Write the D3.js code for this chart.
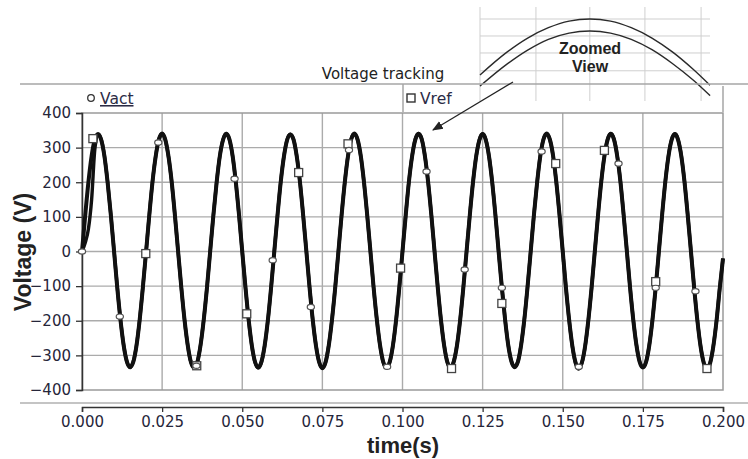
<!DOCTYPE html>
<html>
<head>
<meta charset="utf-8">
<script src="https://cdn.jsdelivr.net/npm/d3@7"></script>
<style>
  body { margin: 0; background: #fff; }
  svg { display: block; }
</style>
</head>
<body>
<div id="chart"></div>
<script>
// Voltage tracking chart - Vact vs Vref

// sample step of the waveforms (s)
var step = 0.001;

// Vref, one value per ms
var vRef = [
  0, 104, 200, 276, 323, 339, 322, 275, 199, 105, 1, -104, -197, -271, -318, -334, -319, -272, -197, -103,
  0, 105, 201, 275, 324, 341, 323, 274, 200, 104, -1, -105, -198, -271, -320, -336, -319, -270, -196, -104,
  1, 105, 199, 275, 322, 340, 324, 276, 200, 105, 0, -103, -197, -272, -319, -335, -318, -271, -198, -104,
  0, 104, 200, 274, 322, 338, 323, 275, 201, 105, 1, -104, -198, -272, -320, -337, -320, -271, -197, -105,
  -1, 105, 200, 276, 324, 341, 323, 275, 199, 104, 0, -105, -197, -271, -319, -335, -319, -272, -198, -104,
  0, 104, 201, 275, 323, 340, 324, 275, 200, 105, 0, -104, -198, -272, -320, -336, -318, -271, -197, -103,
  1, 105, 200, 275, 322, 339, 322, 274, 199, 104, -1, -104, -196, -271, -318, -334, -319, -271, -198, -104,
  0, 105, 199, 276, 324, 341, 323, 276, 200, 105, 0, -105, -198, -273, -321, -338, -320, -272, -197, -104,
  0, 104, 200, 275, 323, 340, 323, 275, 201, 105, 1, -104, -197, -271, -319, -335, -319, -271, -197, -104,
  0, 105, 201, 276, 323, 339, 322, 275, 200, 104, 0, -105, -199, -274, -322, -340, -322, -273, -199, -105,
  -20
];

// Vact, lags during the first quarter cycle then follows Vref
var vAct = [
  0, 25, 65, 150, 295, 338, 324, 276, 200, 106, 2, -103, -196, -270, -318, -335, -318, -271, -196, -102,
  1, 106, 202, 276, 324, 340, 322, 273, 199, 103, -2, -106, -199, -272, -320, -335, -318, -269, -195, -103,
  2, 106, 200, 276, 323, 341, 323, 275, 199, 104, -1, -104, -198, -273, -320, -336, -319, -272, -199, -105,
  1, 105, 201, 275, 323, 339, 324, 276, 202, 106, 2, -103, -197, -271, -319, -336, -319, -270, -196, -104,
  0, 106, 201, 277, 325, 340, 322, 274, 198, 103, -1, -106, -198, -272, -320, -336, -320, -273, -199, -105,
  1, 105, 202, 276, 324, 341, 325, 276, 201, 106, 1, -103, -197, -271, -319, -335, -317, -270, -196, -102,
  2, 106, 201, 276, 323, 340, 323, 275, 200, 105, 0, -103, -195, -270, -317, -333, -318, -270, -197, -103,
  1, 106, 200, 277, 325, 340, 322, 275, 199, 104, -1, -106, -199, -274, -322, -339, -321, -273, -198, -105,
  1, 105, 201, 276, 324, 341, 324, 276, 202, 106, 2, -103, -196, -270, -318, -334, -318, -270, -196, -103,
  1, 106, 202, 277, 324, 340, 323, 276, 201, 105, 1, -104, -198, -273, -321, -339, -321, -272, -198, -104,
  -20
];

// marker positions (time s, voltage V)
var actMarkT = [0, 0.0118, 0.0238, 0.0357, 0.0476, 0.0595, 0.0714, 0.0833, 0.0952, 0.1075, 0.1194, 0.131, 0.1434, 0.155, 0.1674, 0.179, 0.1914];
var actMarkV = [0, -188, 315, -330, 210, -25, -160, 293, -333, 231, -52, -105, 289, -333, 254, -105, -115];
var refMarkT = [0.0034, 0.0199, 0.0358, 0.0514, 0.0676, 0.083, 0.0994, 0.1153, 0.131, 0.1478, 0.163, 0.179, 0.195];
var refMarkV = [326, -6, -330, -180, 228, 311, -48, -338, -150, 254, 292, -87, -338];

// axis ticks
var xTicks = [0, 0.025, 0.05, 0.075, 0.1, 0.125, 0.15, 0.175, 0.2];
var yTicks = [-400, -300, -200, -100, 0, 100, 200, 300, 400];

// zoomed view inset (phase in degrees, voltage)
var zoomDeg = [37, 50, 60, 70, 80, 90, 100, 110, 120, 130, 140, 148];
var zoomOuter = [205, 260, 294, 319, 335, 340, 335, 319, 294, 260, 218, 180];
var zoomInner = [178, 231, 265, 291, 306, 311, 306, 291, 266, 232, 192, 155];
var zoomGridDeg = [37, 64, 90, 116.6, 143.7];
var zoomGridV = [340, 299, 258, 215];

var W = 748, H = 459;
var fontN = "DejaVu Sans, Verdana, sans-serif";
var fontB = "Liberation Sans, Arial, sans-serif";

var svg = d3.select("#chart").append("svg")
    .attr("width", W)
    .attr("height", H);

svg.append("rect").attr("width", W).attr("height", H).attr("fill", "#fff");

var x = d3.scaleLinear().domain([0, 0.2]).range([82, 723]);
var y = d3.scaleLinear().domain([-400, 400]).range([390, 113]);

// ---- zoomed view inset (behind the title area)
var zx = d3.scaleLinear().domain([37, 148]).range([480, 710]);
var zy = d3.scaleLinear().domain([200, 340]).range([77, 19]);

var inset = svg.append("g").attr("class", "inset");
inset.selectAll(".zv")
    .data(zoomGridDeg)
  .enter().append("line")
    .attr("x1", function(d) { return zx(d); })
    .attr("x2", function(d) { return zx(d); })
    .attr("y1", 7).attr("y2", 101)
    .attr("stroke", "#cfcfcf").attr("stroke-width", 1);
inset.selectAll(".zh")
    .data(zoomGridV)
  .enter().append("line")
    .attr("x1", 480).attr("x2", 710)
    .attr("y1", function(d) { return zy(d); })
    .attr("y2", function(d) { return zy(d); })
    .attr("stroke", "#cfcfcf").attr("stroke-width", 1);

var zline = d3.line()
    .x(function(d) { return zx(d[0]); })
    .y(function(d) { return zy(d[1]); })
    .curve(d3.curveMonotoneX);

[zoomOuter, zoomInner].forEach(function(vals) {
  inset.append("path")
      .datum(zoomDeg.map(function(d, i) { return [d, vals[i]]; }))
      .attr("d", zline)
      .attr("fill", "none")
      .attr("stroke", "#2a2a2a")
      .attr("stroke-width", 1.4);
});

inset.append("text")
    .attr("x", 590).attr("y", 54)
    .attr("text-anchor", "middle")
    .attr("font-family", fontB).attr("font-weight", "bold").attr("font-size", 16)
    .attr("fill", "#222")
    .text("Zoomed");
inset.append("text")
    .attr("x", 590).attr("y", 72)
    .attr("text-anchor", "middle")
    .attr("font-family", fontB).attr("font-weight", "bold").attr("font-size", 16)
    .attr("fill", "#222")
    .text("View");

// ---- title and legend row
svg.append("text")
    .attr("x", 383).attr("y", 79)
    .attr("text-anchor", "middle")
    .attr("font-family", fontN).attr("font-size", 15)
    .attr("fill", "#222")
    .text("Voltage tracking");

svg.append("line")
    .attr("x1", 20).attr("x2", W).attr("y1", 84).attr("y2", 84)
    .attr("stroke", "#a6a6a6").attr("stroke-width", 1.5);
svg.append("line")
    .attr("x1", 403).attr("x2", 403).attr("y1", 84).attr("y2", 112)
    .attr("stroke", "#a6a6a6").attr("stroke-width", 1.5);
svg.append("line")
    .attr("x1", 723).attr("x2", 723).attr("y1", 86).attr("y2", 112)
    .attr("stroke", "#a6a6a6").attr("stroke-width", 1.5);

svg.append("circle")
    .attr("cx", 91).attr("cy", 98).attr("r", 3.3)
    .attr("fill", "#fff").attr("stroke", "#333").attr("stroke-width", 1.3);
svg.append("text")
    .attr("x", 100).attr("y", 104)
    .attr("font-family", fontN).attr("font-size", 15.5)
    .attr("text-decoration", "underline")
    .attr("fill", "#2b2b45")
    .text("Vact");

svg.append("rect")
    .attr("x", 407).attr("y", 94).attr("width", 8).attr("height", 8)
    .attr("fill", "#fff").attr("stroke", "#333").attr("stroke-width", 1.4);
svg.append("text")
    .attr("x", 420).attr("y", 104)
    .attr("font-family", fontN).attr("font-size", 15.5)
    .attr("fill", "#2b2b45")
    .text("Vref");

// ---- grid and frame
var grid = svg.append("g").attr("class", "grid");
grid.selectAll(".gx")
    .data(xTicks.slice(1, -1))
  .enter().append("line")
    .attr("x1", function(d) { return x(d); })
    .attr("x2", function(d) { return x(d); })
    .attr("y1", y(400)).attr("y2", y(-400))
    .attr("stroke", "#ababab").attr("stroke-width", 1.4);
grid.selectAll(".gy")
    .data(yTicks.slice(1, -1))
  .enter().append("line")
    .attr("x1", x(0)).attr("x2", x(0.2))
    .attr("y1", function(d) { return y(d); })
    .attr("y2", function(d) { return y(d); })
    .attr("stroke", "#ababab").attr("stroke-width", 1.4);

svg.append("rect")
    .attr("x", x(0)).attr("y", y(400))
    .attr("width", x(0.2) - x(0)).attr("height", y(-400) - y(400))
    .attr("fill", "none").attr("stroke", "#9a9a9a").attr("stroke-width", 1.5);

// ---- y axis
var yAxis = svg.append("g")
    .attr("transform", "translate(" + x(0) + ",0)")
    .call(d3.axisLeft(y).tickValues(yTicks).tickSize(6).tickPadding(5));
yAxis.select(".domain").attr("stroke", "#333").attr("stroke-width", 1.5);
yAxis.selectAll(".tick line").attr("stroke", "#333").attr("stroke-width", 1.3);
yAxis.selectAll("text")
    .attr("font-family", fontN).attr("font-size", 15)
    .attr("fill", "#26263a");

// ---- x axis (separate band below the plot)
svg.append("line")
    .attr("x1", 20).attr("x2", W).attr("y1", 403).attr("y2", 403)
    .attr("stroke", "#b0b0b0").attr("stroke-width", 1.5);

var xAxis = svg.append("g")
    .attr("transform", "translate(0,407)")
    .call(d3.axisBottom(x).tickValues(xTicks).tickFormat(d3.format(".3f")).tickSize(5).tickPadding(4));
xAxis.select(".domain").attr("stroke", "#333").attr("stroke-width", 1.5);
xAxis.selectAll(".tick line").attr("stroke", "#333").attr("stroke-width", 1.3);
xAxis.selectAll("text")
    .attr("font-family", fontN).attr("font-size", 15)
    .attr("fill", "#26263a");

// axis titles
svg.append("text")
    .attr("x", 403).attr("y", 453)
    .attr("text-anchor", "middle")
    .attr("font-family", fontB).attr("font-weight", "bold").attr("font-size", 22)
    .attr("fill", "#222")
    .text("time(s)");
svg.append("text")
    .attr("transform", "translate(31,252) rotate(-90)")
    .attr("text-anchor", "middle")
    .attr("font-family", fontB).attr("font-weight", "bold").attr("font-size", 23)
    .attr("fill", "#222")
    .text("Voltage (V)");

// ---- waveforms
var line = d3.line()
    .x(function(d, i) { return x(i * step); })
    .y(function(d) { return y(d); })
    .curve(d3.curveMonotoneX);

svg.append("path")
    .datum(vRef)
    .attr("d", line)
    .attr("fill", "none").attr("stroke", "#111").attr("stroke-width", 4)
    .attr("stroke-linejoin", "round");
svg.append("path")
    .datum(vAct)
    .attr("d", line)
    .attr("fill", "none").attr("stroke", "#111").attr("stroke-width", 3.4)
    .attr("stroke-linejoin", "round");

// ---- markers
svg.selectAll(".mref")
    .data(refMarkT)
  .enter().append("rect")
    .attr("x", function(d) { return x(d) - 4; })
    .attr("y", function(d, i) { return y(refMarkV[i]) - 4; })
    .attr("width", 8).attr("height", 8)
    .attr("fill", "#fff").attr("stroke", "#444").attr("stroke-width", 1.3);
svg.selectAll(".mact")
    .data(actMarkT)
  .enter().append("ellipse")
    .attr("cx", function(d) { return x(d); })
    .attr("cy", function(d, i) { return y(actMarkV[i]); })
    .attr("rx", 3.6).attr("ry", 2.6)
    .attr("fill", "#fff").attr("stroke", "#555").attr("stroke-width", 1.2);

// ---- arrow to the zoomed peak
var defs = svg.append("defs");
defs.append("marker")
    .attr("id", "arrow")
    .attr("viewBox", "0 0 10 10")
    .attr("refX", 9).attr("refY", 5)
    .attr("markerWidth", 9).attr("markerHeight", 9)
    .attr("orient", "auto")
  .append("path")
    .attr("d", "M0,1 L10,5 L0,9 Z")
    .attr("fill", "#222");
svg.append("line")
    .attr("x1", 513).attr("y1", 82).attr("x2", 433).attr("y2", 130)
    .attr("stroke", "#222").attr("stroke-width", 1.2)
    .attr("marker-end", "url(#arrow)");
</script>
</body>
</html>
